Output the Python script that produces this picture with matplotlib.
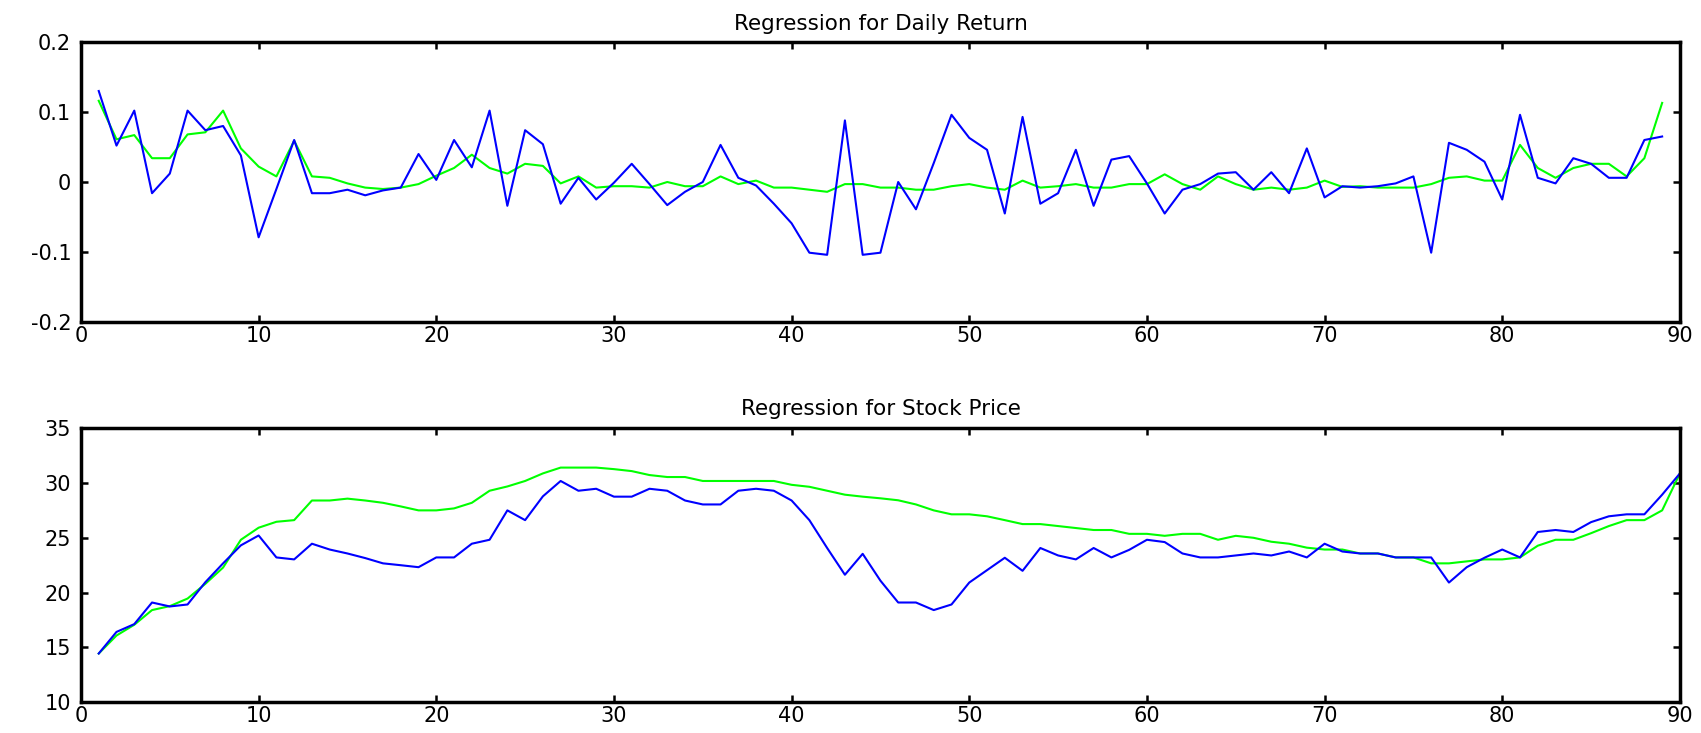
import matplotlib
matplotlib.use("Agg")
import matplotlib.pyplot as plt
import numpy as np

# ---- data ----
days_ret = list(range(1, 90))
ret_actual = [0.130, 0.052, 0.102, -0.016, 0.012, 0.102, 0.074, 0.080, 0.038, -0.079,
              -0.010, 0.060, -0.016, -0.016, -0.011, -0.019, -0.012, -0.008, 0.040, 0.003,
              0.060, 0.021, 0.102, -0.034, 0.074, 0.054, -0.031, 0.006, -0.025, -0.001,
              0.026, -0.003, -0.033, -0.014, 0.000, 0.053, 0.006, -0.005, -0.031, -0.059,
              -0.101, -0.104, 0.088, -0.104, -0.101, 0.000, -0.039, 0.027, 0.096, 0.063,
              0.046, -0.045, 0.093, -0.031, -0.016, 0.046, -0.034, 0.032, 0.037, -0.002,
              -0.045, -0.011, -0.003, 0.012, 0.014, -0.011, 0.014, -0.016, 0.048, -0.022,
              -0.006, -0.008, -0.006, -0.002, 0.008, -0.101, 0.056, 0.046, 0.029, -0.025,
              0.096, 0.006, -0.002, 0.034, 0.026, 0.006, 0.006, 0.060, 0.065]
ret_fit = [0.116, 0.061, 0.067, 0.034, 0.034, 0.068, 0.071, 0.102, 0.048, 0.022,
           0.008, 0.059, 0.008, 0.006, -0.002, -0.008, -0.010, -0.008, -0.003, 0.009,
           0.020, 0.039, 0.020, 0.012, 0.026, 0.023, -0.002, 0.008, -0.008, -0.006,
           -0.006, -0.008, 0.000, -0.006, -0.006, 0.008, -0.003, 0.002, -0.008, -0.008,
           -0.011, -0.014, -0.003, -0.003, -0.008, -0.008, -0.011, -0.011, -0.006, -0.003,
           -0.008, -0.011, 0.002, -0.008, -0.006, -0.003, -0.008, -0.008, -0.003, -0.003,
           0.011, -0.003, -0.011, 0.008, -0.003, -0.011, -0.008, -0.011, -0.008, 0.002,
           -0.007, -0.006, -0.008, -0.008, -0.008, -0.003, 0.006, 0.008, 0.002, 0.002,
           0.053, 0.020, 0.006, 0.020, 0.026, 0.026, 0.008, 0.034, 0.113]

days_px = list(range(1, 91))
price_actual = [14.44, 16.41, 17.12, 19.09, 18.73, 18.91, 20.94, 22.66, 24.30, 25.20,
                23.20, 23.02, 24.45, 23.92, 23.56, 23.14, 22.66, 22.49, 22.31, 23.20,
                23.20, 24.45, 24.81, 27.49, 26.60, 28.77, 30.17, 29.28, 29.46, 28.74,
                28.74, 29.46, 29.28, 28.39, 28.03, 28.03, 29.28, 29.46, 29.28, 28.39,
                26.60, 24.06, 21.62, 23.53, 21.08, 19.09, 19.09, 18.40, 18.91, 20.91,
                22.04, 23.17, 21.98, 24.06, 23.38, 23.02, 24.06, 23.20, 23.89, 24.81,
                24.60, 23.56, 23.20, 23.20, 23.38, 23.56, 23.38, 23.74, 23.20, 24.45,
                23.74, 23.56, 23.56, 23.20, 23.20, 23.20, 20.91, 22.31, 23.17, 23.92,
                23.20, 25.52, 25.70, 25.52, 26.42, 26.95, 27.13, 27.13, 28.92, 30.86]
price_fit = [14.44, 16.08, 17.06, 18.40, 18.76, 19.45, 20.79, 22.28, 24.81, 25.91,
             26.45, 26.60, 28.39, 28.39, 28.56, 28.39, 28.18, 27.85, 27.49, 27.49,
             27.67, 28.18, 29.28, 29.67, 30.17, 30.86, 31.39, 31.39, 31.39, 31.25,
             31.07, 30.71, 30.53, 30.53, 30.17, 30.17, 30.17, 30.17, 30.17, 29.82,
             29.64, 29.28, 28.92, 28.74, 28.59, 28.41, 28.03, 27.49, 27.13, 27.13,
             26.95, 26.60, 26.24, 26.24, 26.06, 25.88, 25.70, 25.70, 25.35, 25.35,
             25.17, 25.35, 25.35, 24.81, 25.17, 24.99, 24.63, 24.45, 24.09, 23.92,
             23.92, 23.56, 23.56, 23.20, 23.20, 22.66, 22.66, 22.84, 23.02, 23.02,
             23.20, 24.27, 24.81, 24.81, 25.41, 26.06, 26.60, 26.60, 27.49, 30.86]

titles = ["Regression for Daily Return", "Regression for Stock Price"]
xticks = list(range(0, 91, 10))
ret_yticks = [-0.2, -0.1, 0, 0.1, 0.2]
ret_yticklabels = ["-0.2", "-0.1", "0", "0.1", "0.2"]
px_yticks = [10, 15, 20, 25, 30, 35]

plt.rcParams['font.family'] = ['DejaVu Sans']

fig = plt.figure(figsize=(17.01, 7.33), dpi=100)
ax1 = fig.add_axes([0.0476, 0.5607, 0.9400, 0.3820])
ax2 = fig.add_axes([0.0476, 0.0420, 0.9400, 0.3741])

GREEN = '#00ff00'
BLUE = '#0000ff'

ax1.plot(days_ret, ret_fit, color=GREEN, lw=1.5)
ax1.plot(days_ret, ret_actual, color=BLUE, lw=1.5)
ax1.set_ylim(-0.2, 0.2)
ax1.set_yticks(ret_yticks)
ax1.set_yticklabels(ret_yticklabels)

ax2.plot(days_px, price_fit, color=GREEN, lw=1.5)
ax2.plot(days_px, price_actual, color=BLUE, lw=1.5)
ax2.set_ylim(10, 35)
ax2.set_yticks(px_yticks)

for ax, t in zip([ax1, ax2], titles):
    ax.set_xlim(0, 90)
    ax.set_xticks(xticks)
    ax.set_title(t, fontsize=15.5, pad=9)
    ax.tick_params(direction='in', top=True, right=True, length=5, width=1.8,
                   labelsize=15)
    ax.tick_params(axis='y', pad=7)
    ax.tick_params(axis='x', pad=3)
    for s in ax.spines.values():
        s.set_linewidth(2.5)

fig.savefig("out.png", dpi=100)
